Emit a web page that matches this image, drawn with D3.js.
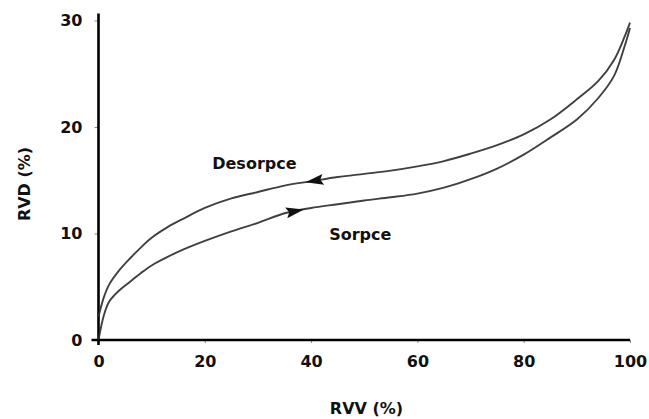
<!DOCTYPE html>
<html>
<head>
<meta charset="utf-8">
<script src="https://cdn.jsdelivr.net/npm/d3@7"></script>
<style>
  body { margin: 0; background: #fff; }
  text { font-family: "DejaVu Sans", Verdana, sans-serif; font-weight: bold; fill: #111; }
</style>
</head>
<body>
<div id="chart"></div>
<script>
// values (RVV %, RVD %)
const rvv = [0, 1, 2, 4, 6, 8, 10, 13, 16, 20, 25, 30, 35, 40, 45, 50, 55, 60, 65, 70, 75, 80, 85, 90, 94, 97, 99, 100];
const sorpce = [0, 2.3, 3.6, 4.7, 5.5, 6.3, 7.0, 7.8, 8.5, 9.3, 10.2, 11.0, 11.9, 12.4, 12.75, 13.1, 13.4, 13.75, 14.3, 15.1, 16.1, 17.4, 19.0, 20.7, 22.7, 24.8, 27.6, 29.3];
const desorpce = [2.2, 4.0, 5.2, 6.6, 7.7, 8.7, 9.6, 10.6, 11.4, 12.4, 13.3, 13.9, 14.5, 14.9, 15.3, 15.6, 15.9, 16.3, 16.8, 17.5, 18.3, 19.3, 20.7, 22.6, 24.3, 26.3, 28.5, 29.8];
const xTicks = [0, 20, 40, 60, 80, 100];
const yTicks = [0, 10, 20, 30];
const arrows = [
  { values: desorpce, at: 40.8, dir: -1 },
  { values: sorpce, at: 36.8, dir: 1 }
];
const notes = [
  { text: "Desorpce", x: 21.4, y: 16.1 },
  { text: "Sorpce", x: 43.4, y: 9.4 }
];

const W = 649, H = 419;
const svg = d3.select("#chart").append("svg")
  .attr("width", W).attr("height", H);

const x = d3.scaleLinear().domain([0, 100]).range([98.5, 630]);
const y = d3.scaleLinear().domain([0, 30]).range([340, 20.5]);

// ticks + labels
const xAxis = svg.append("g")
  .attr("transform", `translate(0,${y(0)})`)
  .call(d3.axisBottom(x).tickValues(xTicks).tickSize(3).tickPadding(13).tickSizeOuter(0));
const yAxis = svg.append("g")
  .attr("transform", `translate(${x(0)},0)`)
  .call(d3.axisLeft(y).tickValues(yTicks).tickSize(4).tickPadding(12).tickSizeOuter(0));
[xAxis, yAxis].forEach(g => {
  g.select(".domain").remove();
  g.selectAll(".tick line").attr("stroke", "#888");
  g.selectAll(".tick text").style("font-size", "16px").attr("fill", "#111");
});

// axis lines
svg.append("line")
  .attr("x1", x(0)).attr("x2", x(0))
  .attr("y1", y(30) - 7).attr("y2", y(0) + 5)
  .attr("stroke", "#000").attr("stroke-width", 2.6);
svg.append("line")
  .attr("x1", x(0) - 7).attr("x2", x(100))
  .attr("y1", y(0)).attr("y2", y(0))
  .attr("stroke", "#000").attr("stroke-width", 2.6);

// curves
const line = d3.line()
  .x(d => x(d[0])).y(d => y(d[1]))
  .curve(d3.curveCatmullRom.alpha(0.5));
[sorpce, desorpce].forEach(vals => {
  svg.append("path")
    .datum(rvv.map((v, i) => [v, vals[i]]))
    .attr("d", line)
    .attr("fill", "none")
    .attr("stroke", "#2b2b2b")
    .attr("stroke-width", 1.9)
    .attr("stroke-opacity", 0.9);
});

// arrow heads sitting on the curves
arrows.forEach(a => {
  const i = d3.bisectRight(rvv, a.at) - 1;
  const t = (a.at - rvv[i]) / (rvv[i + 1] - rvv[i]);
  const yv = a.values[i] + t * (a.values[i + 1] - a.values[i]);
  const px = x(a.at), py = y(yv);
  const ang = Math.atan2(y(a.values[i + 1]) - y(a.values[i]), x(rvv[i + 1]) - x(rvv[i])) * 180 / Math.PI
    + (a.dir < 0 ? 180 : 0);
  svg.append("path")
    .attr("d", "M10,0 L-8,-5.5 L-5,0 L-8,5.5 Z")
    .attr("transform", `translate(${px},${py}) rotate(${ang})`)
    .attr("fill", "#111");
});

// curve labels
svg.selectAll(".note").data(notes).join("text")
  .attr("class", "note")
  .attr("x", d => x(d.x)).attr("y", d => y(d.y))
  .style("font-size", "16px")
  .text(d => d.text);

// axis titles
svg.append("text")
  .attr("x", 366.5).attr("y", 414)
  .attr("text-anchor", "middle")
  .style("font-size", "16px")
  .text("RVV (%)");
svg.append("text")
  .attr("transform", "translate(30,184) rotate(-90)")
  .attr("text-anchor", "middle")
  .style("font-size", "16px")
  .text("RVD (%)");
</script>
</body>
</html>
